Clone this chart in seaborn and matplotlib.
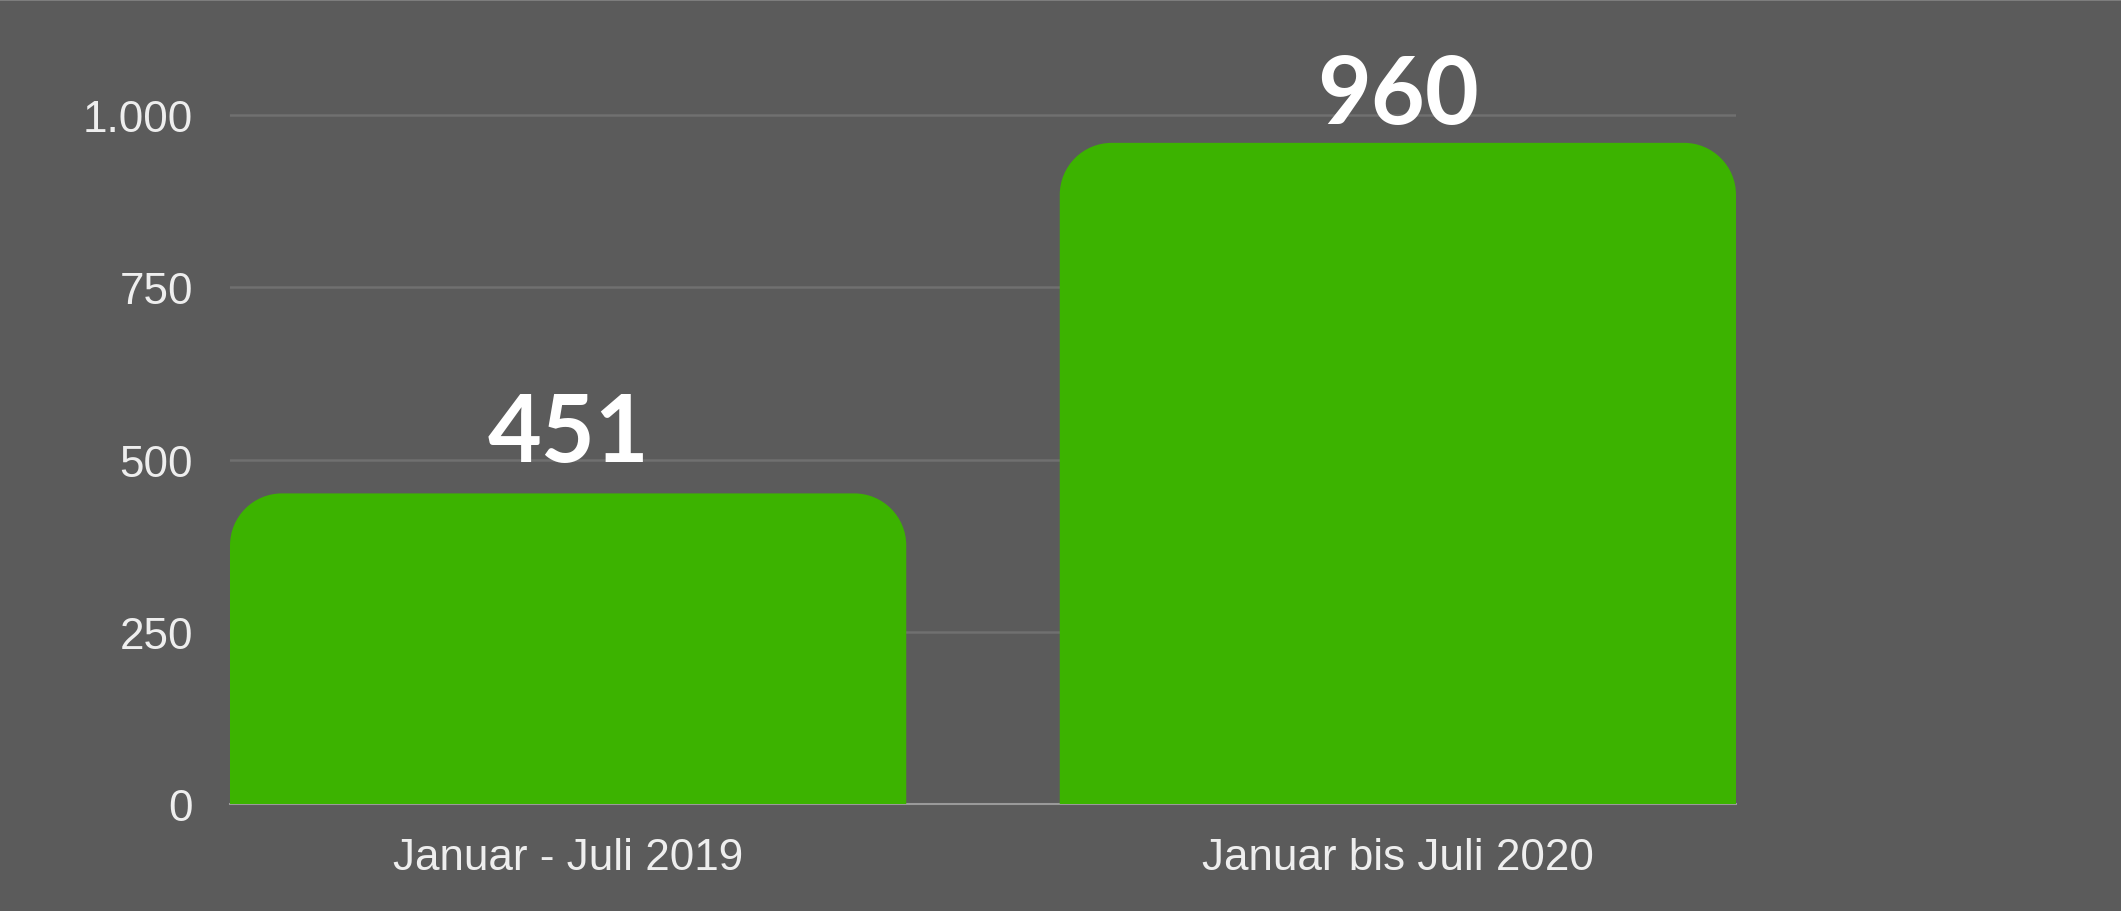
import matplotlib
matplotlib.use("Agg")
import matplotlib.pyplot as plt
from matplotlib.path import Path
from matplotlib.patches import PathPatch
from matplotlib.lines import Line2D
from matplotlib.ticker import FuncFormatter
import seaborn as sns
import pandas as pd

# ---- data ----
categories = ["Januar - Juli 2019", "Januar bis Juli 2020"]
values = [451, 960]
y_ticks = [0, 250, 500, 750, 1000]

BG = "#5b5b5b"
GREEN = "#3cb300"
GRID = "#707070"
TXT = "#eeeeee"

W, H, DPI = 2121, 912, 100
fig = plt.figure(figsize=(W / DPI, H / DPI), dpi=DPI, facecolor=BG)

# axes placement (pixels in reference)
left_px, right_px, base_px, top1000_px = 230, 1736, 805, 116.3
ppu = (base_px - top1000_px) / 1000.0
ytop = 1100
ax = fig.add_axes([left_px / W, (H - base_px) / H,
                   (right_px - left_px) / W, ytop * ppu / H])
ax.set_facecolor(BG)

df = pd.DataFrame({"cat": categories, "val": values})
sns.barplot(data=df, x="cat", y="val", color=GREEN, saturation=1,
            width=0.815, linewidth=0, ax=ax, zorder=3)

ax.set_xlim(-0.4075, len(categories) - 1 + 0.4075)
ax.set_ylim(0, ytop)
ax.set_yticks(y_ticks)
ax.yaxis.set_major_formatter(FuncFormatter(lambda v, p: f"{int(v):,}".replace(",", ".")))
ax.set_xlabel("")
ax.set_ylabel("")

ax.set_axisbelow(True)
ax.yaxis.grid(True, color=GRID, linewidth=1.8)
ax.xaxis.grid(False)
for s in ["top", "right", "left"]:
    ax.spines[s].set_visible(False)
ax.spines["bottom"].set_color("#9a9a9a")
ax.spines["bottom"].set_linewidth(1.5)
ax.spines["bottom"].set_zorder(1)

font_ticks = ["Liberation Sans", "DejaVu Sans"]
ax.tick_params(axis="both", length=0, labelcolor=TXT, labelsize=31.7)
ax.tick_params(axis="y", pad=26.5)
ax.tick_params(axis="x", pad=24)
for lab in ax.get_xticklabels() + ax.get_yticklabels():
    lab.set_family(font_ticks)

# rounded top corners (radius in pixels)
fig.canvas.draw()
t = ax.transData
px_x = t.transform((1, 0))[0] - t.transform((0, 0))[0]
px_y = t.transform((0, 1))[1] - t.transform((0, 0))[1]
r_px = 52
rx, ry = r_px / px_x, r_px / px_y
k = 0.5523
for p in list(ax.patches):
    x0 = p.get_x()
    w = p.get_width()
    h = p.get_height()
    x1 = x0 + w
    verts = [
        (x0, 0), (x0, h - ry),
        (x0, h - ry + k * ry), (x0 + rx - k * rx, h), (x0 + rx, h),
        (x1 - rx, h),
        (x1 - rx + k * rx, h), (x1, h - ry + k * ry), (x1, h - ry),
        (x1, 0), (x0, 0),
    ]
    codes = [Path.MOVETO, Path.LINETO,
             Path.CURVE4, Path.CURVE4, Path.CURVE4,
             Path.LINETO,
             Path.CURVE4, Path.CURVE4, Path.CURVE4,
             Path.LINETO, Path.CLOSEPOLY]
    pp = PathPatch(Path(verts, codes), facecolor=p.get_facecolor(),
                   edgecolor="none", linewidth=0, zorder=3)
    p.set_visible(False)
    ax.add_patch(pp)

# value labels
gap_units = 32 / px_y
clamp = (base_px - 124) / px_y
for i, v in enumerate(values):
    ax.text(i, min(v + gap_units, clamp), f"{v}", ha="center", va="baseline",
            fontsize=67, fontweight="bold", color="white",
            family=["Lato", "DejaVu Sans"], zorder=5)

# thin top border like the screenshot
fig.add_artist(Line2D([0, 1], [1 - 1 / H, 1 - 1 / H], transform=fig.transFigure,
                      color="#858585", linewidth=1.2))

fig.savefig("out.png", dpi=DPI, facecolor=BG)
